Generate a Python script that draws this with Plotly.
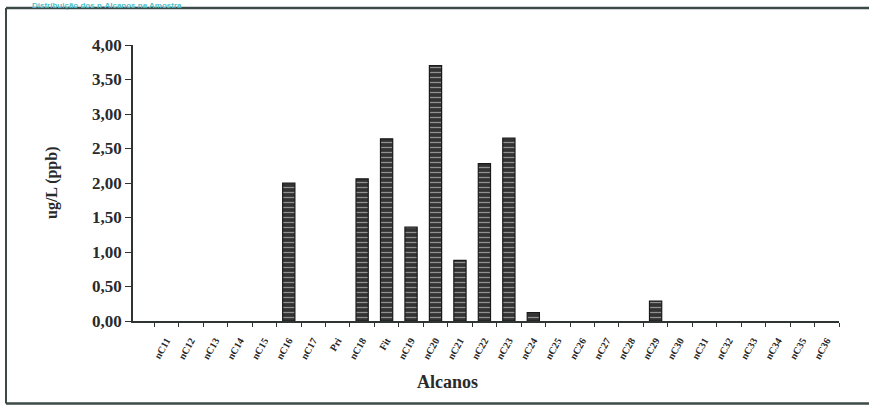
import plotly.graph_objects as go

categories = ["nC11", "nC12", "nC13", "nC14", "nC15", "nC16", "nC17", "Pri", "nC18", "Fit",
              "nC19", "nC20", "nC21", "nC22", "nC23", "nC24", "nC25", "nC26", "nC27", "nC28",
              "nC29", "nC30", "nC31", "nC32", "nC33", "nC34", "nC35", "nC36"]
values = [0, 0, 0, 0, 0, 2.00, 0, 0, 2.06, 2.64,
          1.36, 3.70, 0.88, 2.28, 2.65, 0.12, 0, 0, 0, 0,
          0.29, 0, 0, 0, 0, 0, 0, 0]
y_ticks = [0, 0.5, 1, 1.5, 2, 2.5, 3, 3.5, 4]

W, H = 869, 412
L, R, T, B = 133, 30, 45, 91.3
pw, ph = W - L - R, H - T - B

def px(x):
    return (x - L) / pw

def py(y):
    return (H - B - y) / ph

serif = "Liberation Serif"
ink = "#2e3432"

fig = go.Figure(go.Bar(
    x=categories, y=values,
    marker=dict(color="#333333",
                line=dict(color="#1a1a1a", width=[1.2 if v > 0 else 0 for v in values]),
                pattern=dict(shape="-", fgcolor="#efefef", bgcolor="#333333",
                             size=5, solidity=0.25)),
    hoverinfo="x+y",
))

fig.update_layout(
    width=W, height=H,
    margin=dict(l=L, r=R, t=T, b=B),
    paper_bgcolor="white", plot_bgcolor="white",
    separators=",.",
    bargap=0.5,
    showlegend=False,
    xaxis=dict(
        type="category", range=[-1.37, 27.5],
        showline=True, linecolor=ink, linewidth=2,
        ticks="outside", tickson="boundaries", ticklen=4, tickcolor=ink,
        tickangle=-60, ticklabelstandoff=8,
        tickfont=dict(family=serif, size=10, color="#262626", weight="bold"),
        showgrid=False, zeroline=False,
    ),
    yaxis=dict(
        range=[0, 4], tickvals=y_ticks, tickformat=".2f",
        showline=True, linecolor=ink, linewidth=1.5,
        ticks="outside", ticklen=6, tickcolor=ink,
        tickfont=dict(family=serif, size=17, color="#2a2a2a", weight="bold"),
        showgrid=False, zeroline=False,
    ),
    annotations=[
        dict(text="<b>ug/L (ppb)</b>", xref="paper", yref="paper",
             x=px(52), y=0.5, xanchor="center", yanchor="middle",
             textangle=-90, showarrow=False,
             font=dict(family=serif, size=16, color="#2a2a2a")),
        dict(text="<b>Alcanos</b>", xref="paper", yref="paper",
             x=px(447), y=py(382), xanchor="center", yanchor="middle", showarrow=False,
             font=dict(family=serif, size=18, color="#2a2a2a")),
        dict(text="<b>Distribuição dos n-Alcanos na Amostra</b>", xref="paper", yref="paper",
             x=px(30), y=py(-1), xanchor="left", yanchor="top", showarrow=False,
             font=dict(family="Liberation Sans", size=8, color="#4fbfc9")),
    ],
    shapes=[
        dict(type="line", xref="paper", yref="paper", x0=px(6), x1=px(880), y0=py(8), y1=py(8),
             line=dict(color="#3b4a47", width=2.5)),
        dict(type="line", xref="paper", yref="paper", x0=px(6), x1=px(6), y0=py(8), y1=py(403),
             line=dict(color="#3b4a47", width=2)),
        dict(type="line", xref="paper", yref="paper", x0=px(6), x1=px(880), y0=py(403), y1=py(403),
             line=dict(color="#3b4a47", width=2.5)),
    ],
)

fig.write_html("out.html", config={"displayModeBar": False},
               post_script="document.body.style.margin='0px';")
